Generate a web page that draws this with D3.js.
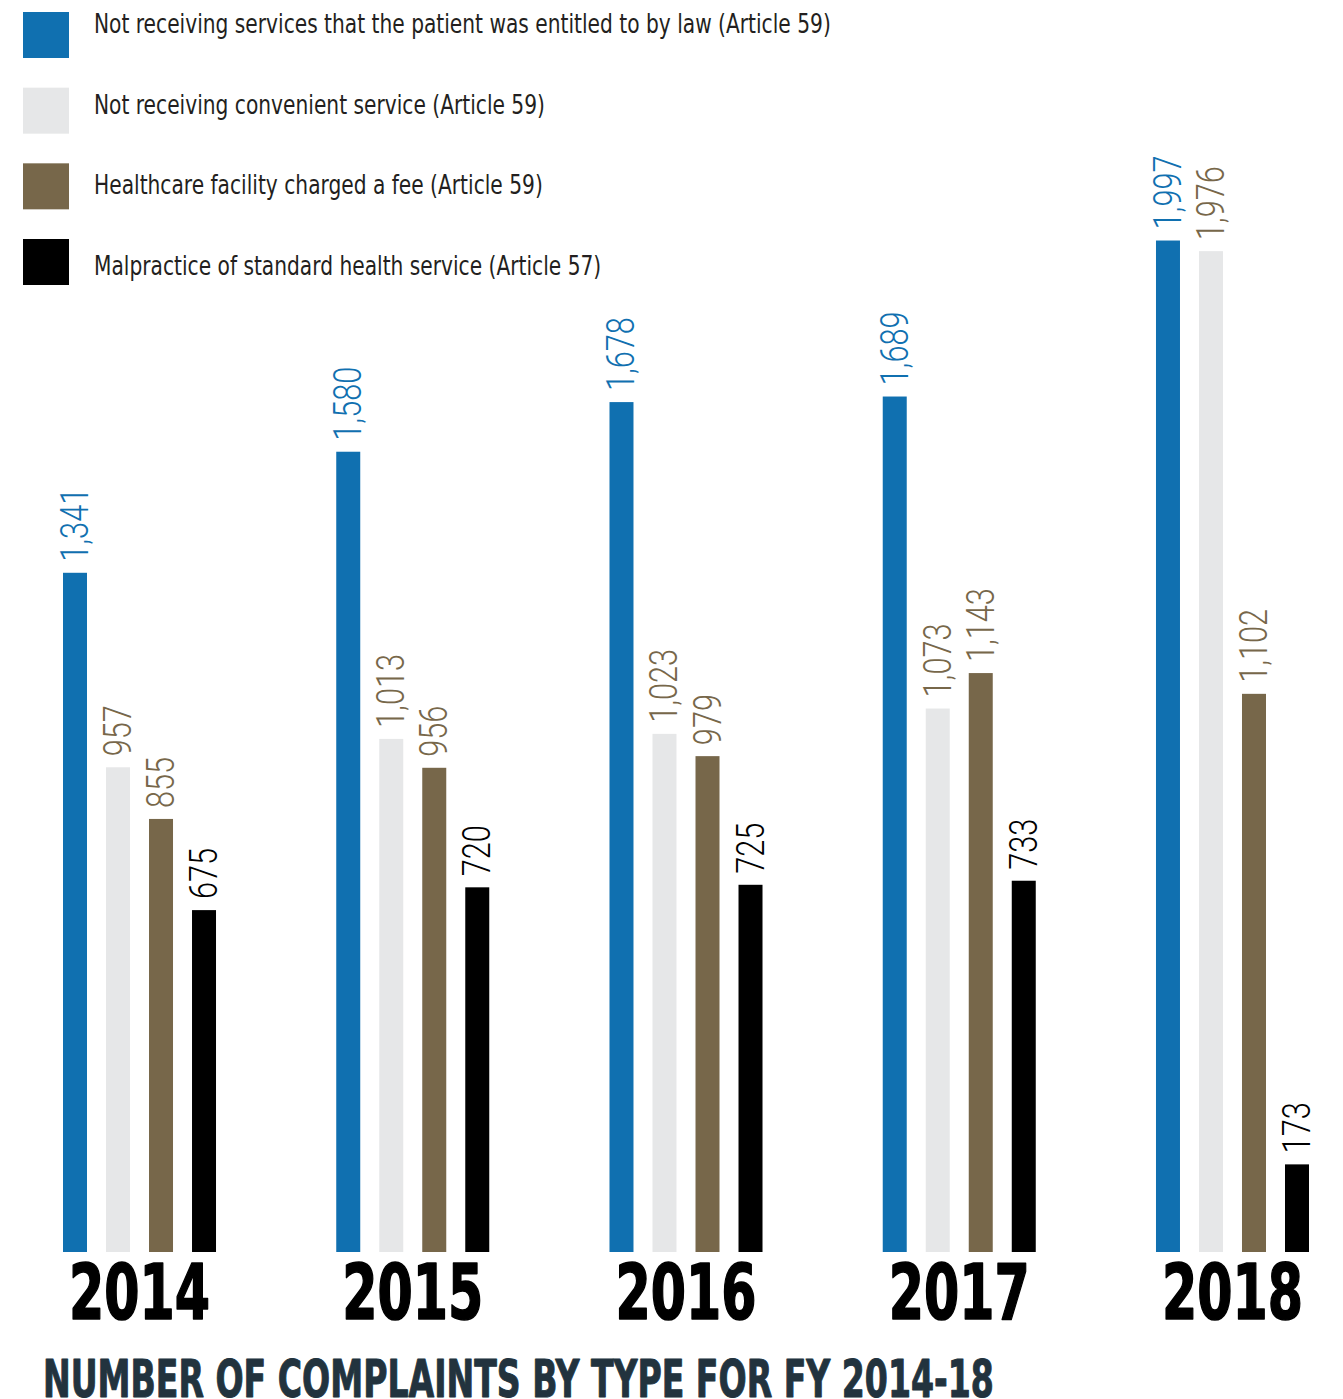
<!DOCTYPE html>
<html>
<head>
<meta charset="utf-8">
<script src="https://cdn.jsdelivr.net/npm/d3@7"></script>
<style>
  html, body { margin: 0; padding: 0; background: #fff; }
  svg { display: block; }
  .cond { font-family: "DejaVu Sans Condensed", "DejaVu Sans", sans-serif; }
  .thin { font-family: Roboto, "Open Sans", sans-serif; font-weight: 300; }
</style>
</head>
<body>
<svg id="chart" width="1343" height="1399"></svg>
<script>
// Complaint counts per fiscal year, one array per complaint type
const years = ["2014", "2015", "2016", "2017", "2018"];
const seriesNames = [
  "Not receiving services that the patient was entitled to by law (Article 59)",
  "Not receiving convenient service (Article 59)",
  "Healthcare facility charged a fee (Article 59)",
  "Malpractice of standard health service (Article 57)"
];
const notEntitled = [1341, 1580, 1678, 1689, 1997];
const notConvenient = [957, 1013, 1023, 1073, 1976];
const feeCharged = [855, 956, 979, 1143, 1102];
const malpractice = [675, 720, 725, 733, 173];
const seriesValues = [notEntitled, notConvenient, feeCharged, malpractice];
const title = "NUMBER OF COMPLAINTS BY TYPE FOR FY 2014-18";

const barColors = ["#1070b0", "#e6e7e8", "#77674a", "#000000"];
const labelColors = ["#1070b0", "#77674a", "#77674a", "#000000"];

const svg = d3.select("#chart");
const fmt = d3.format(",");

// Horizontal squeeze factor that makes `sample` set in the given style span `width` px
function squeeze(cls, size, weight, sample, width) {
  const t = svg.append("text").attr("class", cls)
    .attr("font-size", size).attr("font-weight", weight).text(sample);
  const w = t.node().getComputedTextLength();
  t.remove();
  return width / w;
}

const baseline = 1252;
const y = d3.scaleLinear().domain([0, 2000]).range([baseline, 239]);

const x0 = d3.scaleBand().domain(years).range([63, 1309]).paddingInner(0.44).paddingOuter(0);
const x1 = d3.scaleBand().domain(d3.range(seriesNames.length)).range([0, x0.bandwidth()]).paddingInner(0.442);

// Legend
const legendBox = d3.scalePoint().domain(d3.range(seriesNames.length)).range([12, 239]);
const legendText = d3.scalePoint().domain(d3.range(seriesNames.length)).range([33, 275]);
const legendSq = squeeze("cond", 27, "normal", seriesNames[0], 737);
const legend = svg.append("g");
seriesNames.forEach((name, i) => {
  legend.append("rect")
    .attr("x", 23).attr("y", legendBox(i))
    .attr("width", 46).attr("height", 46)
    .attr("fill", barColors[i]);
  legend.append("text")
    .attr("class", "cond")
    .attr("transform", `translate(94,${legendText(i)}) scale(${legendSq},1)`)
    .attr("font-size", 27)
    .attr("fill", "#231f20")
    .text(name);
});

// Bars and value labels
const valueSq = squeeze("thin", 39, 300, "1,580", 74);
const groups = svg.append("g").selectAll("g")
  .data(years)
  .join("g")
  .attr("transform", d => `translate(${x0(d)},0)`);

groups.each(function(year, yi) {
  const g = d3.select(this);
  const rows = seriesValues.map((vals, si) => ({ si, v: vals[yi] }));
  g.selectAll("rect")
    .data(rows)
    .join("rect")
    .attr("x", d => x1(d.si))
    .attr("y", d => y(d.v))
    .attr("width", x1.bandwidth())
    .attr("height", d => baseline - y(d.v))
    .attr("fill", d => barColors[d.si]);
  g.selectAll("text")
    .data(rows)
    .join("text")
    .attr("class", "thin")
    .attr("transform", d => `translate(${x1(d.si) + x1.bandwidth() + 1},${y(d.v) - 11}) rotate(-90) scale(${valueSq},1)`)
    .attr("font-size", 39)
    .attr("fill", d => labelColors[d.si])
    .text(d => fmt(d.v));
});

// Year labels
const yearSq = squeeze("cond", 76, "bold", "2014", 141);
svg.append("g").selectAll("text")
  .data(years)
  .join("text")
  .attr("class", "cond")
  .attr("transform", d => `translate(${x0(d) + x0.bandwidth() / 2},1319) scale(${yearSq},1)`)
  .attr("text-anchor", "middle")
  .attr("font-size", 76)
  .attr("font-weight", "bold")
  .attr("fill", "#000")
  .attr("stroke", "#000")
  .attr("stroke-width", 1.6)
  .attr("stroke-linejoin", "round")
  .text(d => d);

// Title
const titleSq = squeeze("cond", 51, "bold", title, 951);
svg.append("text")
  .attr("class", "cond")
  .attr("transform", `translate(43,1397) scale(${titleSq},1)`)
  .attr("font-size", 51)
  .attr("font-weight", "bold")
  .attr("fill", "#22333e")
  .attr("stroke", "#22333e")
  .attr("stroke-width", 1)
  .attr("stroke-linejoin", "round")
  .text(title);
</script>
</body>
</html>
